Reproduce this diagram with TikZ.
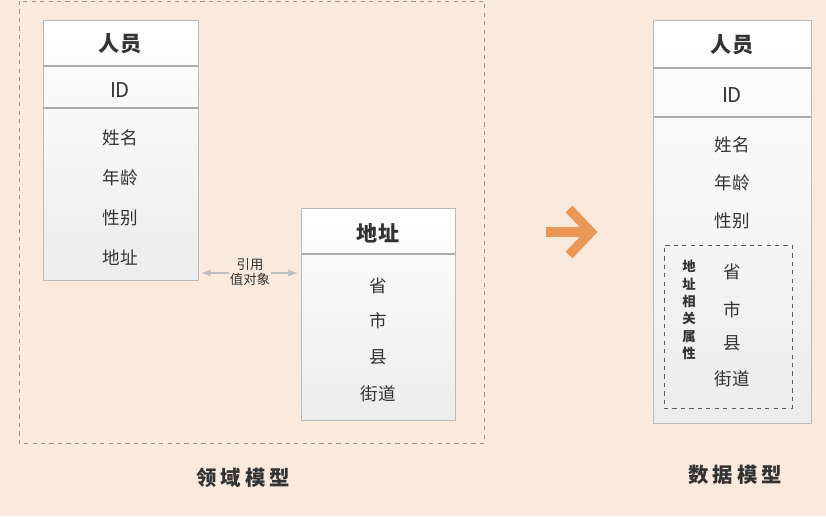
\documentclass[tikz,border=0pt]{standalone}
\usepackage{fontspec}
\setmainfont{Noto Sans CJK SC}
\newfontfamily\spacedfont{Noto Sans CJK SC}[LetterSpace=20]
\usetikzlibrary{positioning,fit,shadows}

\definecolor{bgpeach}{RGB}{249,234,221}
\definecolor{boxgray}{RGB}{186,186,186}
\definecolor{boxbot}{RGB}{236,236,236}
\definecolor{divgray}{RGB}{172,172,172}
\definecolor{txtgray}{RGB}{51,51,51}
\definecolor{refgray}{RGB}{190,190,190}
\definecolor{arroworange}{RGB}{235,152,86}

\begin{document}
\begin{tikzpicture}[x=0.025cm, y=-0.025cm,
  every node/.style={text=txtgray},
  classbox/.style={draw=boxgray, line width=0.6pt, top color=white,
    bottom color=boxbot, inner sep=0pt,
    drop shadow={opacity=0.12, shadow xshift=0.8pt, shadow yshift=-0.8pt}},
  divline/.style={draw=divgray, line width=0.8pt},
  title/.style={font=\bfseries\fontsize{15}{17}\selectfont},
  field/.style={font=\fontsize{12.5}{14}\selectfont},
  caption/.style={font=\spacedfont\bfseries\fontsize{14.5}{16}\selectfont}]
%\draw[help lines, step=20] (0,0) grid (826,516);

\pgfmathsetmacro\xP{120};
\pgfmathsetmacro\xA{378};
\pgfmathsetmacro\xR{732};

\fill[bgpeach] (0,0) rectangle (826,516);
\useasboundingbox (0,0) rectangle (826,516);

% domain model frame
\draw[boxgray!80!black, dashed, line width=0.6pt] (19,1) rectangle (484,443);

% person (domain)
\node[classbox, fit={(43,20) (198,280)}] (person) {};
\draw[divline] (person.west |- 0,66) -- (person.east |- 0,66);
\draw[divline] (person.west |- 0,108) -- (person.east |- 0,108);
\node[title] (personTitle) at (\xP,44) {人员};
\node[font=\fontsize{14.5}{16}\selectfont] (personId) at (\xP,90) {ID};
\node[field] (personName) at (\xP,138) {姓名};
\node[field] (personAge) at (\xP,178) {年龄};
\node[field] (personSex) at (\xP,218) {性别};
\node[field] (personAddr) at (\xP,258) {地址};

% address (value object)
\node[classbox, fit={(301,208) (455,420)}] (addr) {};
\draw[divline] (addr.west |- 0,254) -- (addr.east |- 0,254);
\node[title] (addrTitle) at (\xA,233) {地址};
\node[field] (addrProv) at (\xA,286) {省};
\node[field] (addrCity) at (\xA,321) {市};
\node[field] (addrCounty) at (\xA,357) {县};
\node[field] (addrStreet) at (\xA,394) {街道};

% reference
\coordinate (refy) at (0,273);
\draw[refgray, line width=1.3pt, <->, >=latex]
  ([xshift=2pt]person.east |- refy) -- ([xshift=-2pt]addr.west |- refy);
\node[fill=bgpeach, inner sep=0.5pt, align=center,
  font=\fontsize{9.5}{10}\selectfont] (refLabel) at (250,272) {引用\\值对象};

% transform
\draw[arroworange, line width=6.7pt] (546,232) -- (588,232);
\draw[arroworange, line width=6.7pt, line join=miter]
  (569,209) -- (591,232) -- (569,255);

% person (data)
\node[classbox, fit={(653,20) (811,423)}] (record) {};
\draw[divline] (record.west |- 0,68) -- (record.east |- 0,68);
\draw[divline] (record.west |- 0,117) -- (record.east |- 0,117);
\node[title] (recordTitle) at (\xR,45) {人员};
\node[font=\fontsize{14.5}{16}\selectfont] (recordId) at (\xR,95) {ID};
\node[field] (recordName) at (\xR,145) {姓名};
\node[field] (recordAge) at (\xR,183) {年龄};
\node[field] (recordSex) at (\xR,221) {性别};

\node[draw=txtgray!80, dashed, line width=0.6pt, inner sep=0pt,
  fit={(664,245) (792,408)}] (addrGroup) {};
\node[align=center, font=\bfseries\fontsize{9.5}{12.3}\selectfont]
  (groupLabel) at (689,310) {地\\址\\相\\关\\属\\性};
\node[field] (recordProv) at (\xR,272) {省};
\node[field] (recordCity) at (\xR,310) {市};
\node[field] (recordCounty) at (\xR,343) {县};
\node[field] (recordStreet) at (\xR,379) {街道};

% captions
\node[caption] (domainCap) at (243,478) {领域模型};
\node[caption] (dataCap) at (735,475) {数据模型};

\end{tikzpicture}
\end{document}
